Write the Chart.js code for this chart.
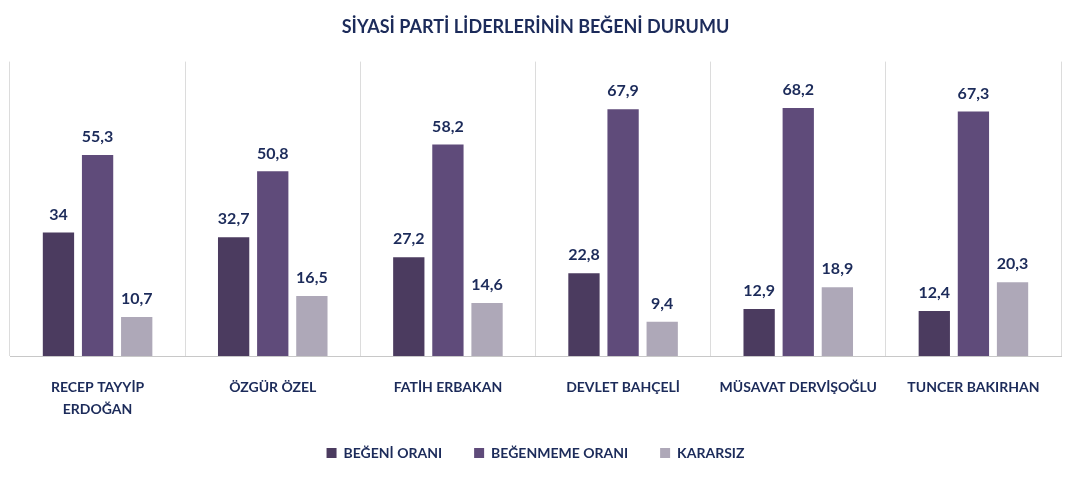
<!DOCTYPE html>
<html>
<head>
<meta charset="utf-8">
<script src="https://cdn.jsdelivr.net/npm/chart.js@4/dist/chart.umd.min.js"></script>
<style>
  html, body { margin: 0; padding: 0; background: #fff; }
  #wrap { width: 1068px; height: 477px; }
</style>
</head>
<body>
<div id="wrap"><canvas id="chart"></canvas></div>
<script>
// data
const categories = [
  ["RECEP TAYYİP", "ERDOĞAN"],
  "ÖZGÜR ÖZEL",
  "FATİH ERBAKAN",
  "DEVLET BAHÇELİ",
  "MÜSAVAT DERVİŞOĞLU",
  "TUNCER BAKIRHAN"
];
const begeni = [34, 32.7, 27.2, 22.8, 12.9, 12.4];
const begenmeme = [55.3, 50.8, 58.2, 67.9, 68.2, 67.3];
const kararsiz = [10.7, 16.5, 14.6, 9.4, 18.9, 20.3];

const navy = "#1c2b5a";
const fontFam = "Lato, 'Open Sans', sans-serif";

// degerleri cubuklarin ustune yaz
const valueLabels = {
  id: "valueLabels",
  afterDatasetsDraw(chart) {
    const ctx = chart.ctx;
    ctx.save();
    ctx.fillStyle = navy;
    ctx.font = "bold 16px " + fontFam;
    ctx.textAlign = "center";
    ctx.textBaseline = "bottom";
    chart.data.datasets.forEach((ds, i) => {
      chart.getDatasetMeta(i).data.forEach((bar, j) => {
        const txt = String(ds.data[j]).replace(".", ",");
        ctx.fillText(txt, bar.x, bar.y - 10);
      });
    });
    ctx.restore();
  }
};

new Chart(document.getElementById("chart"), {
  type: "bar",
  data: {
    labels: categories,
    datasets: [
      { label: "BEĞENİ ORANI", data: begeni, backgroundColor: "#4b3b5f" },
      { label: "BEĞENMEME ORANI", data: begenmeme, backgroundColor: "#5f4b7a" },
      { label: "KARARSIZ", data: kararsiz, backgroundColor: "#aea8b8" }
    ]
  },
  options: {
    responsive: true,
    maintainAspectRatio: false,
    animation: false,
    layout: { padding: { left: 10, right: 7, top: 6, bottom: 7 } },
    datasets: {
      bar: { categoryPercentage: 0.67, barPercentage: 0.8 }
    },
    plugins: {
      title: {
        display: true,
        text: "SİYASİ PARTİ LİDERLERİNİN BEĞENİ DURUMU",
        color: navy,
        font: { family: fontFam, size: 18, weight: "bold" },
        padding: { top: 10, bottom: 24 }
      },
      legend: {
        position: "bottom",
        labels: {
          color: navy,
          font: { family: fontFam, size: 14, weight: "bold" },
          boxWidth: 10,
          boxHeight: 10,
          padding: 32
        }
      },
      tooltip: { enabled: false }
    },
    scales: {
      x: {
        clip: false,
        grid: { display: true, offset: true, color: "#dcdcdc", drawTicks: false },
        border: { display: true, color: "#c8c8c8" },
        ticks: {
          color: navy,
          padding: 20,
          font: { family: fontFam, size: 14, weight: "bold", lineHeight: 1.6 },
          maxRotation: 0
        },
        afterFit(scale) { scale.height = 58; }
      },
      y: {
        display: false,
        min: 0,
        max: 81
      }
    }
  },
  plugins: [valueLabels]
});
</script>
</body>
</html>
